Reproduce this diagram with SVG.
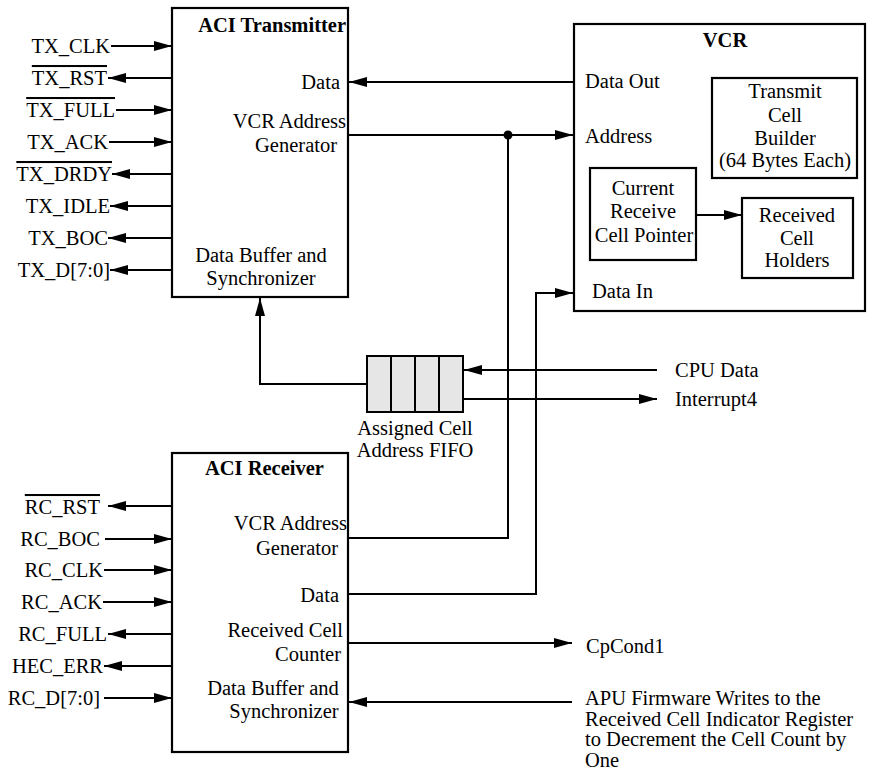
<svg xmlns="http://www.w3.org/2000/svg" width="872" height="772" viewBox="0 0 872 772" font-family="'Liberation Serif', 'Times New Roman', 'DejaVu Serif', serif">
<defs>
<marker id="ah" markerUnits="userSpaceOnUse" markerWidth="20" markerHeight="12" refX="18" refY="5" orient="auto">
<path d="M0,0 L18,5 L0,10 z" fill="#000"/>
</marker>
<style>
text{font-family:'Liberation Serif','Times New Roman','DejaVu Serif',serif;font-size:20.5px;fill:#000}
.b{font-weight:bold}
.m{text-anchor:middle}
.e{text-anchor:end}
.ov{text-decoration:overline}
.box{fill:#fff;stroke:#000;stroke-width:2.2}
.cell{fill:#e6e6e6;stroke:#000;stroke-width:2}
.c line,.c polyline{fill:none;stroke:#000;stroke-width:2}
.a{marker-end:url(#ah)}
</style>
</defs>
<rect width="872" height="772" fill="#fff"/>

<g id="aci-transmitter">
<rect class="box" x="172" y="8" width="176" height="289"/>
<text class="b e" x="346" y="32">ACI Transmitter</text>
<text class="e" x="340" y="89">Data</text>
<text class="e" x="346" y="128">VCR Address</text>
<text class="e" x="337" y="152">Generator</text>
<text class="m" x="261" y="262">Data Buffer and</text>
<text class="m" x="261" y="285">Synchronizer</text>
</g>

<g id="vcr">
<rect class="box" x="574" y="24" width="291" height="287"/>
<text class="b m" x="725" y="47">VCR</text>
<text x="585" y="88">Data Out</text>
<text x="585" y="143">Address</text>
<text x="592" y="298">Data In</text>
</g>

<g id="transmit-cell-builder">
<rect class="box" x="712" y="78" width="145" height="100"/>
<text class="m" x="785" y="98">Transmit</text>
<text class="m" x="785" y="122">Cell</text>
<text class="m" x="785" y="145">Builder</text>
<text class="m" x="785" y="167">(64 Bytes Each)</text>
</g>

<g id="current-receive-cell-pointer">
<rect class="box" x="590" y="168" width="106" height="92"/>
<text class="m" x="643" y="195">Current</text>
<text class="m" x="643" y="218">Receive</text>
<text class="m" x="644" y="242">Cell Pointer</text>
</g>

<g id="received-cell-holders">
<rect class="box" x="742" y="198" width="111" height="80"/>
<text class="m" x="797" y="222">Received</text>
<text class="m" x="797" y="245">Cell</text>
<text class="m" x="797" y="267">Holders</text>
</g>

<g id="assigned-cell-address-fifo">
<rect class="cell" x="367" y="356" width="24" height="56"/>
<rect class="cell" x="391" y="356" width="24" height="56"/>
<rect class="cell" x="415" y="356" width="24" height="56"/>
<rect class="cell" x="439" y="356" width="24" height="56"/>
<text class="m" x="415" y="435">Assigned Cell</text>
<text class="m" x="415" y="457">Address FIFO</text>
</g>

<g id="aci-receiver">
<rect class="box" x="172" y="453" width="176" height="299"/>
<text class="b" x="205" y="475">ACI Receiver</text>
<text class="e" x="347" y="530">VCR Address</text>
<text class="e" x="338" y="555">Generator</text>
<text class="e" x="339" y="602">Data</text>
<text class="e" x="343" y="637">Received Cell</text>
<text class="e" x="341" y="661">Counter</text>
<text class="m" x="273" y="695">Data Buffer and</text>
<text class="m" x="284" y="718">Synchronizer</text>
</g>

<g id="tx-signals">
<text class="e" x="110" y="53">TX_CLK</text>
<text class="e ov" x="107" y="85">TX_RST</text>
<text class="e ov" x="115" y="117">TX_FULL</text>
<text class="e" x="108" y="149">TX_ACK</text>
<text class="e ov" x="112" y="181">TX_DRDY</text>
<text class="e" x="110" y="213">TX_IDLE</text>
<text class="e" x="108" y="245">TX_BOC</text>
<text class="e" x="110" y="277">TX_D[7:0]</text>
</g>

<g id="rx-signals">
<text class="e ov" x="100" y="514">RC_RST</text>
<text class="e" x="100" y="546">RC_BOC</text>
<text class="e" x="103" y="577">RC_CLK</text>
<text class="e" x="102" y="609">RC_ACK</text>
<text class="e" x="107" y="641">RC_FULL</text>
<text class="e" x="103" y="673">HEC_ERR</text>
<text class="e" x="100" y="705">RC_D[7:0]</text>
</g>

<g id="external-labels">
<text x="675" y="377">CPU Data</text>
<text x="675" y="406">Interrupt4</text>
<text x="586" y="653">CpCond1</text>
<text x="585" y="705">APU Firmware Writes to the</text>
<text x="585" y="726">Received Cell Indicator Register</text>
<text x="585" y="746">to Decrement the Cell Count by</text>
<text x="585" y="767">One</text>
</g>

<g id="connectors" class="c">
<line class="a" x1="111" y1="46" x2="172" y2="46"/>
<line class="a" x1="172" y1="78" x2="108" y2="78"/>
<line class="a" x1="116" y1="110" x2="172" y2="110"/>
<line class="a" x1="109" y1="142" x2="172" y2="142"/>
<line class="a" x1="172" y1="174" x2="112" y2="174"/>
<line class="a" x1="172" y1="206" x2="110" y2="206"/>
<line class="a" x1="172" y1="238" x2="108" y2="238"/>
<line class="a" x1="172" y1="270" x2="110" y2="270"/>

<line class="a" x1="172" y1="506" x2="108" y2="506"/>
<line class="a" x1="105" y1="539" x2="172" y2="539"/>
<line class="a" x1="104" y1="570" x2="172" y2="570"/>
<line class="a" x1="103" y1="602" x2="172" y2="602"/>
<line class="a" x1="172" y1="634" x2="108" y2="634"/>
<line class="a" x1="172" y1="666" x2="104" y2="666"/>
<line class="a" x1="104" y1="698" x2="172" y2="698"/>

<line class="a" x1="574" y1="82" x2="349" y2="82"/>
<line class="a" x1="349" y1="135" x2="573" y2="135"/>
<circle cx="508" cy="135" r="4.5" fill="#000"/>
<polyline points="349,538 508,538 508,135"/>
<polyline class="a" points="349,594 536,594 536,293 573,293"/>
<polyline class="a" points="367,384 260,384 260,298"/>
<line class="a" x1="657" y1="370" x2="464" y2="370"/>
<line class="a" x1="463" y1="399" x2="657" y2="399"/>
<line class="a" x1="349" y1="643" x2="572" y2="643"/>
<line class="a" x1="572" y1="702" x2="349" y2="702"/>
<line class="a" x1="696" y1="215" x2="742" y2="215"/>
</g>
</svg>
